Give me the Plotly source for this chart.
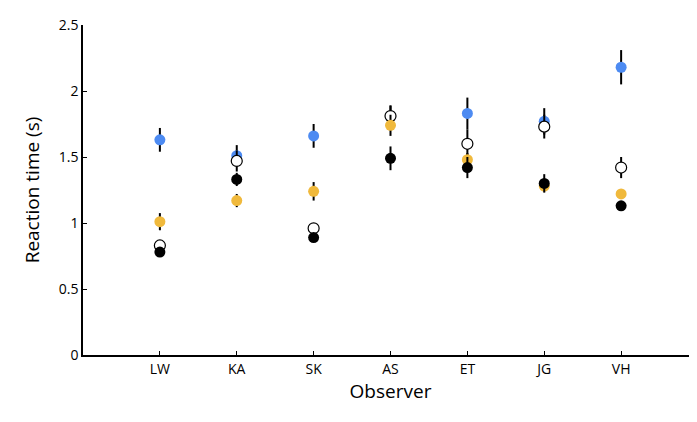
import plotly.graph_objects as go

observers = ["LW", "KA", "SK", "AS", "ET", "JG", "VH"]
xpos = [1, 2, 3, 4, 5, 6, 7]

blue_rt = [1.63, 1.51, 1.66, 1.81, 1.83, 1.77, 2.18]
blue_err = [0.09, 0.08, 0.09, 0.08, 0.12, 0.10, 0.13]

open_rt = [0.83, 1.47, 0.96, 1.81, 1.60, 1.73, 1.42]
open_err = [0.03, 0.08, 0.03, 0.08, 0.11, 0.09, 0.08]

yellow_rt = [1.01, 1.17, 1.24, 1.74, 1.48, 1.28, 1.22]
yellow_err = [0.065, 0.05, 0.07, 0.08, 0.05, 0.04, 0.03]

black_rt = [0.78, 1.33, 0.89, 1.49, 1.42, 1.30, 1.13]
black_err = [0.03, 0.05, 0.03, 0.09, 0.08, 0.07, 0.03]

yticks = [0, 0.5, 1, 1.5, 2, 2.5]
ytick_text = ["0", "0.5", "1", "1.5", "2", "2.5"]

FONT = "Open Sans"

fig = go.Figure()

def add(y, err, fill, line_color, line_w):
    fig.add_trace(go.Scatter(
        x=xpos, y=y, mode="markers",
        marker=dict(size=11, color=fill, line=dict(color=line_color, width=line_w)),
        error_y=dict(type="data", array=err, visible=True, color="black",
                     thickness=2, width=0),
        showlegend=False, cliponaxis=False,
    ))

add(blue_rt, blue_err, "#4d8bf2", "#4d8bf2", 0)
add(open_rt, open_err, "white", "black", 1.2)
add(yellow_rt, yellow_err, "#f0b93c", "#f0b93c", 0)
add(black_rt, black_err, "black", "black", 0)

fig.update_layout(
    width=697, height=422,
    margin=dict(l=75, r=7, t=15, b=75),
    paper_bgcolor="white", plot_bgcolor="white",
    font=dict(family=FONT, color="black", size=14),
    xaxis=dict(
        range=[0, 8], tickmode="array", tickvals=xpos, ticktext=observers,
        showline=True, linecolor="black", linewidth=1.5,
        ticks="inside", ticklen=4, tickcolor="black", tickwidth=1,
        showgrid=False, zeroline=False,
        title=dict(text="Observer", font=dict(size=19, family=FONT), standoff=6),
        tickfont=dict(size=14, family=FONT),
    ),
    yaxis=dict(
        range=[0, 2.5], tickmode="array", tickvals=yticks, ticktext=ytick_text,
        showline=True, linecolor="black", linewidth=1.5,
        ticks="inside", ticklen=4, tickcolor="black", tickwidth=1,
        showgrid=False, zeroline=False,
        title=dict(text="Reaction time (s)", font=dict(size=19, family=FONT), standoff=14),
        tickfont=dict(size=14, family=FONT),
    ),
)

fig.write_html("out.html")
